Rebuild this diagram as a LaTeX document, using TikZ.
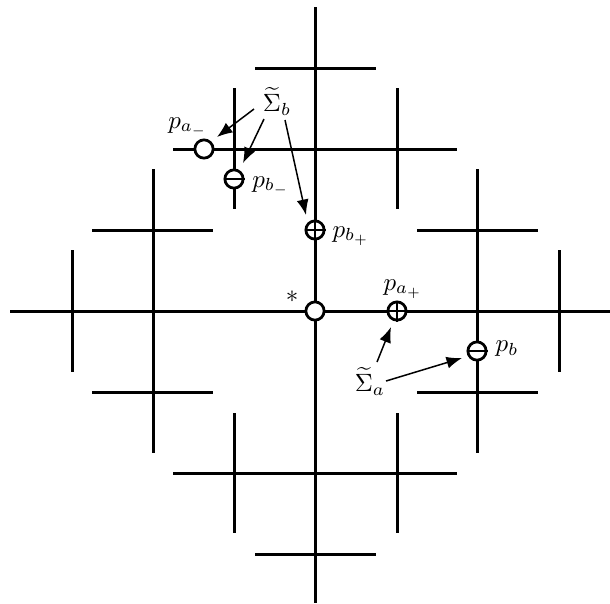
\documentclass[tikz,border=0pt]{standalone}
\usetikzlibrary{arrows.meta}
\begin{document}
\begin{tikzpicture}[x=0.4pt,y=-0.4pt,
  gridline/.style={line width=1.2pt},
  mk/.style={circle,draw,line width=1.1pt,fill=white,minimum size=7.3pt,inner sep=0pt},
  bar/.style={line width=0.8pt},
  lab/.style={inner sep=0pt},
  pointer/.style={line width=0.6pt,-{Latex[length=6.2pt,width=4.8pt]}}]
\useasboundingbox (0,0) rectangle (610,603);
% main lines
\draw[gridline] (10,311) -- (610,311);
\draw[gridline] (315,7) -- (315,603);
% outer short segments on main lines
\draw[gridline] (255,68) -- (376,68);
\draw[gridline] (255,554) -- (376,554);
\draw[gridline] (72,250) -- (72,372);
\draw[gridline] (559,250) -- (559,372);
% level-one cross lines
\draw[gridline] (173,149) -- (457,149);
\draw[gridline] (173,473) -- (457,473);
\draw[gridline] (153,169) -- (153,453);
\draw[gridline] (477,169) -- (477,453);
% level-two segments
\draw[gridline] (234,88) -- (234,209);
\draw[gridline] (397,88) -- (397,209);
\draw[gridline] (234,413) -- (234,533);
\draw[gridline] (397,413) -- (397,533);
\draw[gridline] (92,230) -- (213,230);
\draw[gridline] (92,392) -- (213,392);
\draw[gridline] (417,230) -- (538,230);
\draw[gridline] (417,392) -- (538,392);
% marked points
\node[mk] (pam) at (204,149) {};
\node[mk] (pbm) at (234,179) {};
\draw[bar] (pbm.west) -- (pbm.east);
\node[mk] (pbp) at (315,230) {};
\draw[bar] (pbp.west) -- (pbp.east);
\draw[bar] (pbp.north) -- (pbp.south);
\node[mk] (star) at (315,311) {};
\node[mk] (pap) at (397,311) {};
\draw[bar] (pap.west) -- (pap.east);
\draw[bar] (pap.north) -- (pap.south);
\node[mk] (pb) at (477,351) {};
\draw[bar] (pb.west) -- (pb.east);
% labels
\node[lab] (Sb) at (277,101) {$\widetilde{\Sigma}_b$};
\node[lab] (Lpam) at (188,127) {$p_{a_-}$};
\node[lab] (Lpbm) at (271,186) {$p_{b_-}$};
\node[lab] (Lpbp) at (351,236) {$p_{b_+}$};
\node[lab] (Lstar) at (292,297) {$*$};
\node[lab] (Lpap) at (403,289) {$p_{a_+}$};
\node[lab] (Sa) at (370,381) {$\widetilde{\Sigma}_a$};
\node[lab] (Lpb) at (507,349) {$p_b$};
% arrow endpoints
\coordinate (s1) at (254,109); \coordinate (t1) at (217,137);
\coordinate (s2) at (264,119); \coordinate (t2) at (243,163);
\coordinate (s3) at (285,120); \coordinate (t3) at (306,215);
\coordinate (s4) at (377,362); \coordinate (t4) at (391,327);
\coordinate (s5) at (386,381); \coordinate (t5) at (462,358);
\draw[pointer] (s1) -- (t1);
\draw[pointer] (s2) -- (t2);
\draw[pointer] (s3) -- (t3);
\draw[pointer] (s4) -- (t4);
\draw[pointer] (s5) -- (t5);
\end{tikzpicture}
\end{document}
